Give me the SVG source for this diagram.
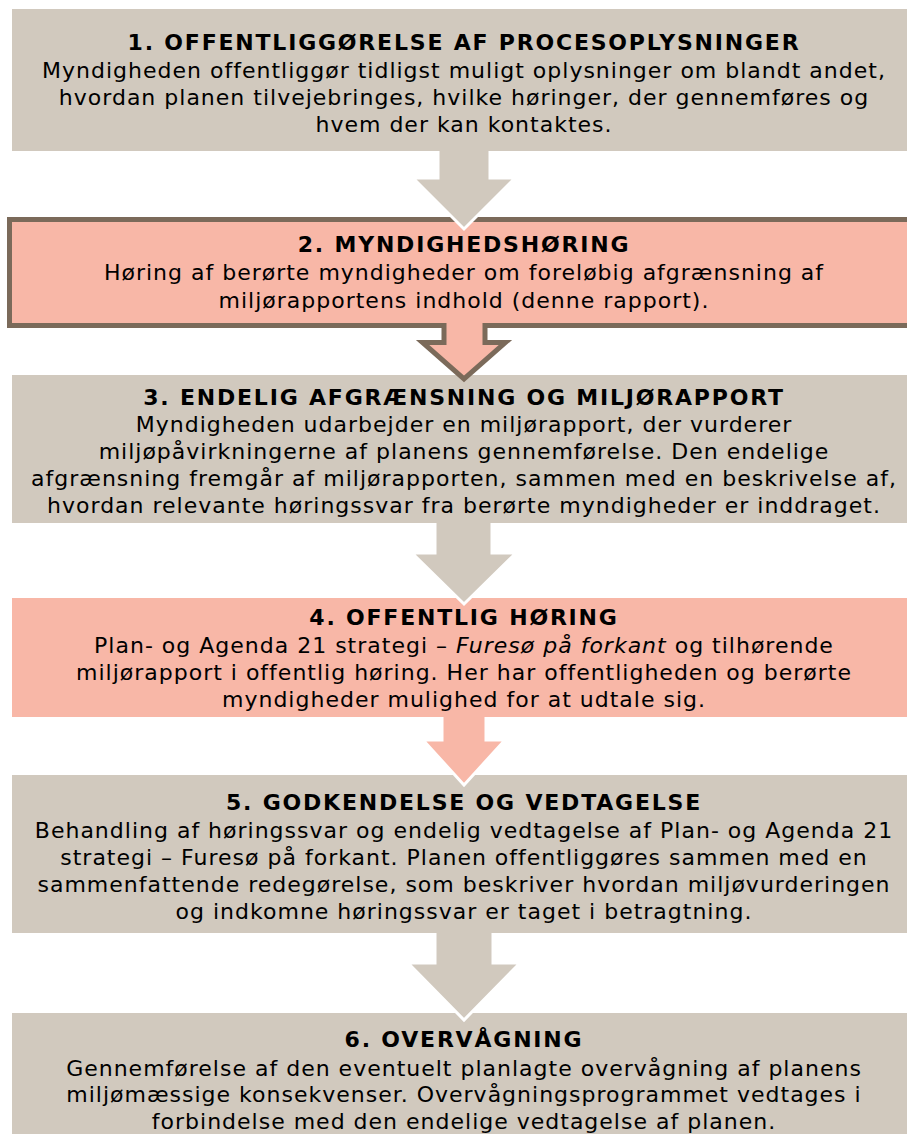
<svg xmlns="http://www.w3.org/2000/svg" width="907" height="1144" viewBox="0 0 907 1144">
<style>
.tan{fill:#d1c9be}
.pink{fill:#f8b7a7}
.t{font-family:"DejaVu Sans","Verdana",sans-serif;font-size:22px;letter-spacing:1px;fill:#000;text-anchor:middle}
.b{font-weight:bold;letter-spacing:1.8px}
.arT{fill:#d1c9be;stroke:#fff;stroke-width:3;stroke-linejoin:miter}
.arP{fill:#f8b7a7;stroke:#fff;stroke-width:3}
.arB{fill:#f8b7a7;stroke:#7b6a5a;stroke-width:5;stroke-linejoin:miter}
</style>
<rect width="907" height="1144" fill="#fff"/>
<g id="node1">
<rect class="tan" x="12" y="9" width="910" height="142"/>
<text class="t b" x="464" y="50">1. OFFENTLIGGØRELSE AF PROCESOPLYSNINGER</text>
<text class="t" x="464" y="78">Myndigheden offentliggør tidligst muligt oplysninger om blandt andet,</text>
<text class="t" x="464" y="105">hvordan planen tilvejebringes, hvilke høringer, der gennemføres og</text>
<text class="t" x="464" y="132">hvem der kan kontaktes.</text>
</g>
<g id="node2">
<rect x="9.5" y="219.5" width="920" height="106" fill="#f8b7a7" stroke="#7b6a5a" stroke-width="5"/>
<text class="t b" x="464" y="252">2. MYNDIGHEDSHØRING</text>
<text class="t" x="464" y="280">Høring af berørte myndigheder om foreløbig afgrænsning af</text>
<text class="t" x="464" y="308">miljørapportens indhold (denne rapport).</text>
</g>
<g id="node3">
<rect class="tan" x="12" y="375" width="910" height="148"/>
<text class="t b" x="464" y="405">3. ENDELIG AFGRÆNSNING OG MILJØRAPPORT</text>
<text class="t" x="464" y="432">Myndigheden udarbejder en miljørapport, der vurderer</text>
<text class="t" x="464" y="459">miljøpåvirkningerne af planens gennemførelse. Den endelige</text>
<text class="t" x="464" y="486">afgrænsning fremgår af miljørapporten, sammen med en beskrivelse af,</text>
<text class="t" x="464" y="513">hvordan relevante høringssvar fra berørte myndigheder er inddraget.</text>
</g>
<g id="node4">
<rect class="pink" x="12" y="598" width="910" height="119"/>
<text class="t b" x="464" y="625">4. OFFENTLIG HØRING</text>
<text class="t" x="464" y="653">Plan- og Agenda 21 strategi – <tspan font-style="italic">Furesø på forkant</tspan> og tilhørende</text>
<text class="t" x="464" y="680">miljørapport i offentlig høring. Her har offentligheden og berørte</text>
<text class="t" x="464" y="707">myndigheder mulighed for at udtale sig.</text>
</g>
<g id="node5">
<rect class="tan" x="12" y="775" width="910" height="158"/>
<text class="t b" x="464" y="810">5. GODKENDELSE OG VEDTAGELSE</text>
<text class="t" x="464" y="838">Behandling af høringssvar og endelig vedtagelse af Plan- og Agenda 21</text>
<text class="t" x="464" y="865">strategi – Furesø på forkant. Planen offentliggøres sammen med en</text>
<text class="t" x="464" y="892">sammenfattende redegørelse, som beskriver hvordan miljøvurderingen</text>
<text class="t" x="464" y="919">og indkomne høringssvar er taget i betragtning.</text>
</g>
<g id="node6">
<rect class="tan" x="12" y="1013" width="910" height="121"/>
<text class="t b" x="464" y="1047">6. OVERVÅGNING</text>
<text class="t" x="464" y="1076">Gennemførelse af den eventuelt planlagte overvågning af planens</text>
<text class="t" x="464" y="1102">miljømæssige konsekvenser. Overvågningsprogrammet vedtages i</text>
<text class="t" x="464" y="1129">forbindelse med den endelige vedtagelse af planen.</text>
</g>
<g id="connectors">
<path class="arT" d="M438,151 V178 H413 L464,229 L515,178 H490 V151"/>
<path class="arB" d="M444,323 V342.5 H422.5 L464,379 L505.5,342.5 H485 V323"/>
<path class="arT" d="M435,523 V553 H412 L464,604 L516,553 H492 V523"/>
<path class="arP" d="M442,717 V740 H423 L464,785 L505,740 H486 V717"/>
<path class="arT" d="M435,933 V963 H408 L464,1020 L520,963 H493 V933"/>
</g>
</svg>
